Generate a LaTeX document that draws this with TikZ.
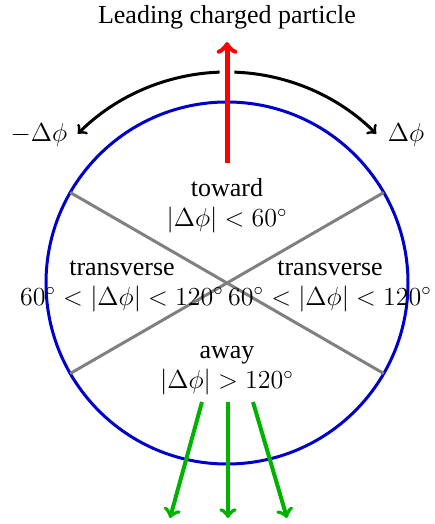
\RequirePackage{fix-cm}
\documentclass[tikz,border=0pt,12pt]{standalone}
\usepackage{amsmath}
\usepackage{amssymb}
\usepackage{fontspec}
\setmainfont{Liberation Serif}

\begin{document}
\begin{tikzpicture}[x=0.5pt, y=0.5pt, font=\fontsize{13}{15}\selectfont,
    region/.style={align=center, inner sep=0pt},
    recoil/.style={->, line width=2pt, green!70!black},
    sweep/.style={->, line width=1.5pt, black}]
    \useasboundingbox (-227,-241) rectangle (207,283);
    \coordinate (O) at (0,0);
    % Azimuthal regions
    \draw[blue!80!black, line width=1.5pt] (O) circle [radius=181];
    \foreach \a in {30,150,210,330} \coordinate (c\a) at (\a:181);
    \draw[gray, line width=1.5pt] (c150) -- (c330);
    \draw[gray, line width=1.5pt] (c30) -- (c210);
    % Leading particle direction
    \node (title) at (0,266) {Leading charged particle};
    \coordinate (leadfrom) at (0,120);
    \coordinate (leadto) at (0,241);
    \draw[->, red, line width=2.5pt] (leadfrom) -- (leadto);
    % Delta phi sweep
    \coordinate (sl) at (92:211);
    \coordinate (sr) at (88:211);
    \draw[sweep] (sl) arc [start angle=92, end angle=135, radius=211];
    \draw[sweep] (sr) arc [start angle=88, end angle=45, radius=211];
    \node (mdphi) at (-188,148) {$-\Delta\phi$};
    \node (pdphi) at (179,148) {$\Delta\phi$};
    % Region labels
    \node[region] (toward) at (0,77) {toward\\$|\Delta\phi|<60^\circ$};
    \node[region] (transL) at (-105,-3) {transverse\\$60^\circ<|\Delta\phi|<120^\circ$};
    \node[region] (transR) at (103,-3) {transverse\\$60^\circ<|\Delta\phi|<120^\circ$};
    \node[region] (away) at (0,-88) {away\\$|\Delta\phi|>120^\circ$};
    % Recoil particles
    \foreach \n/\x/\X in {l/-25/-57, m/1/1, r/26/60} {
        \coordinate (g\n0) at (\x,-119);
        \coordinate (g\n1) at (\X,-235);
        \draw[recoil] (g\n0) -- (g\n1);
    }
\end{tikzpicture}
\end{document}
